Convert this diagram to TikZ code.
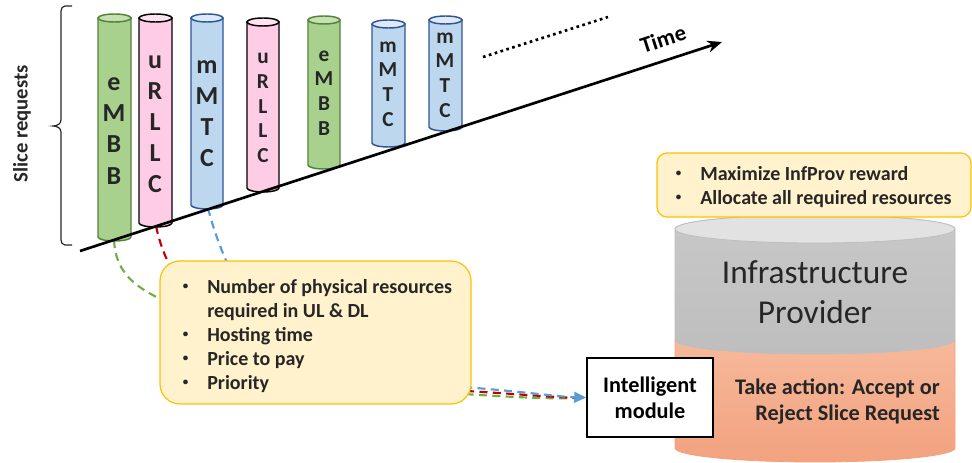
\documentclass[tikz,border=0pt]{standalone}
\usepackage{fontspec}
\usepackage{graphicx}
\setmainfont{Carlito}
\usetikzlibrary{arrows.meta}
\definecolor{txt}{HTML}{262626}
\definecolor{gfill}{HTML}{A9D18E}
\definecolor{gtop}{HTML}{C5E0B4}
\definecolor{gdraw}{HTML}{548235}
\definecolor{pfill}{HTML}{FFCCE5}
\definecolor{ptop}{HTML}{FFE3F1}
\definecolor{pdraw}{HTML}{000000}
\definecolor{bfill}{HTML}{BDD7EE}
\definecolor{btop}{HTML}{DEEBF7}
\definecolor{bdraw}{HTML}{2F5597}
\definecolor{cgreen}{HTML}{70AD47}
\definecolor{cred}{HTML}{C00000}
\definecolor{cblue}{HTML}{5B9BD5}
\definecolor{yfill}{HTML}{FFF2CC}
\definecolor{ydraw}{HTML}{FFC000}
\definecolor{grayA}{HTML}{C8C8C8}
\definecolor{grayB}{HTML}{BEBEBE}
\definecolor{grayT}{HTML}{E2E2E2}
\definecolor{oraA}{HTML}{F6B99B}
\definecolor{oraB}{HTML}{F3A27F}
\newcommand{\slicecyl}[7]{%
  \pgfmathsetmacro\crx{(#2-#1)/2}%
  \draw[cylline, draw=#6, fill=#5] (#1,#3) -- (#1,#4) arc[start angle=180,end angle=0,x radius=\crx,y radius=4] -- (#2,#3) -- cycle;
  \draw[cylline, draw=#6, fill=#7] ({(#1+#2)/2},#3) ellipse[x radius=\crx, y radius=4];
}
\tikzset{
  cylline/.style={line width=1.1pt},
  biglett/.style={font=\bfseries\fontsize{19.5}{23.3}\selectfont, align=center, text=txt, inner sep=0pt},
  smalllett/.style={font=\bfseries\fontsize{16}{18.5}\selectfont, align=center, text=txt, inner sep=0pt},
  conn/.style={line width=1.6pt, dash pattern=on 6pt off 4pt},
  ybox/.style={draw=ydraw, fill=yfill, line width=0.9pt},
  bullettext/.style={font=\bfseries\fontsize{15}{18}\selectfont, align=left, text=txt, inner sep=0pt, anchor=north west},
}
\newcommand{\bul}{\makebox[18.75pt][l]{\hspace*{0.5pt}\raisebox{0.35ex}{\scalebox{0.55}{\textbullet}}}}
\begin{document}
\begin{tikzpicture}[x=0.75pt,y=-0.75pt]
\useasboundingbox (0,0) rectangle (972,463);

% brace and label
\draw[line width=0.9pt, txt] (72,6) -- (65,6) to[out=180,in=90] (61,11) -- (61,120) to[out=-90,in=0] (53,126)
  to[out=0,in=90] (61,132) -- (61,240) to[out=-90,in=180] (65,245) -- (72,245);
\node[font=\bfseries\fontsize{15.5}{18}\selectfont, text=txt, rotate=90] (slreq) at (22,124) {Slice requests};

% big infrastructure cylinder
\shade[top color=oraA, bottom color=oraB, draw=oraB, line width=0.6pt]
  (675,340) -- (675,448) arc[start angle=180,end angle=0,x radius=140,y radius=14] -- (955,340) -- cycle;
\shade[top color=grayA, bottom color=grayB, draw=grayB, line width=0.6pt]
  (675,229) -- (675,340) arc[start angle=180,end angle=0,x radius=140,y radius=14] -- (955,229) arc[start angle=0,end angle=-180,x radius=140,y radius=14] -- cycle;
\draw[fill=grayT, draw=grayB, line width=0.6pt] (815,229) ellipse[x radius=140, y radius=14];
\node[font=\fontsize{25}{30}\selectfont, align=center, text=txt, inner sep=0pt] (infra) at (815,292) {Infrastructure\\Provider};
\node[font=\bfseries\fontsize{16.7}{19.5}\selectfont, align=right, text=txt, inner sep=0pt, anchor=east] (act) at (940,402) {Take action: Accept or\\Reject Slice Request};

% top yellow box
\node[ybox, rounded corners=7.5pt, minimum width=235.5pt, minimum height=48pt] (goal) at (814,185) {};
\node[bullettext] (goaltext) at (675,166) {\bul Maximize InfProv reward\\\bul Allocate all required resources};

% connectors (behind request box)
\coordinate (b1) at (114,240);
\coordinate (b2) at (156,226);
\coordinate (b3) at (208,208);
\node[draw=black, fill=white, line width=1.1pt, minimum width=94.5pt, minimum height=59.25pt,
      font=\bfseries\fontsize{16.7}{19.5}\selectfont, align=center, text=black] (mod) at (650,397.5) {Intelligent\\module};
\draw[conn, cgreen, shorten >=6pt] (b1) .. controls (116,275) and (135,292) .. (200,315) -- (450,393)
   .. controls (520,398) and (560,399) .. (mod.west);
\draw[conn, cred, shorten >=6pt] (b2) .. controls (160,245) and (168,268) .. (190,300) -- (450,390)
   .. controls (520,394) and (560,398) .. (mod.west);
\draw[conn, cblue, -{Triangle[length=9pt,width=8pt]}] (b3) .. controls (213,228) and (222,255) .. (240,290) -- (450,386)
   .. controls (520,391) and (560,397) .. (mod.west);

% request info box
\node[ybox, rounded corners=15pt, minimum width=233.25pt, minimum height=107.25pt] (req) at (315.5,332.5) {};
\node[bullettext] (reqtext) at (182,279) {\bul Number of physical resources\\\hspace*{18.75pt}required in UL \& DL\\\bul Hosting time\\\bul Price to pay\\\bul Priority};

% slice cylinders
\slicecyl{98}{131}{18}{237}{gfill}{gdraw}{gtop}
\slicecyl{139}{172}{18}{223}{pfill}{pdraw}{ptop}
\slicecyl{191}{223}{18}{205}{bfill}{bdraw}{btop}
\slicecyl{247}{279}{22}{188}{pfill}{pdraw}{ptop}
\slicecyl{308}{340}{20}{165}{gfill}{gdraw}{gtop}
\slicecyl{372}{405}{24}{143}{bfill}{bdraw}{btop}
\slicecyl{429}{462}{20}{127}{bfill}{bdraw}{btop}
\node[biglett] (s1) at (114,131) {e\\M\\B\\B};
\node[biglett] (s2) at (155,124) {u\\R\\L\\L\\C};
\node[biglett] (s3) at (207,114) {m\\M\\T\\C};
\node[smalllett] (s4) at (263,108) {u\\R\\L\\L\\C};
\node[smalllett] (s5) at (324,93) {e\\M\\B\\B};
\node[smalllett] (s6) at (388,84) {m\\M\\T\\C};
\node[smalllett] (s7) at (445,75) {m\\M\\T\\C};

% time axis
\coordinate (t0) at (80,251);
\coordinate (t1) at (722,42);
\draw[line width=2pt, -{Stealth[length=11pt,width=9pt]}] (t0) -- (t1);
\node[font=\bfseries\fontsize{17}{20}\selectfont, text=black, rotate=18] (time) at (663,39) {Time};
\coordinate (d0) at (483,57);
\coordinate (d1) at (608,17);
\draw[line width=2pt, dash pattern=on 2pt off 2.6pt] (d0) -- (d1);
\end{tikzpicture}
\end{document}
